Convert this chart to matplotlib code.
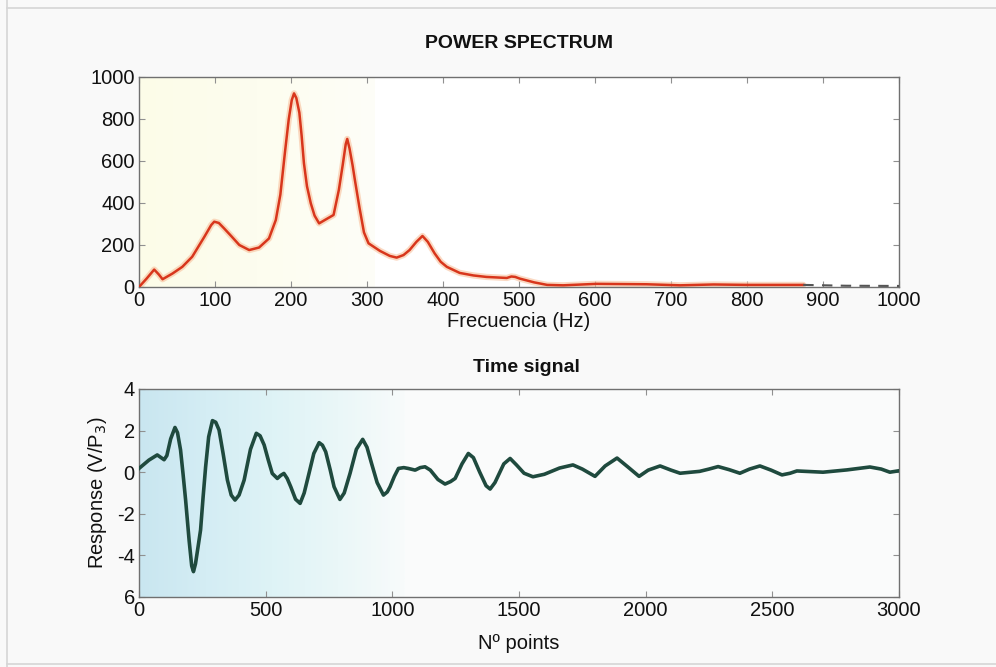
import numpy as np
import matplotlib.pyplot as plt
from matplotlib.colors import LinearSegmentedColormap
from matplotlib.lines import Line2D

plt.rcParams['font.family'] = ['Liberation Sans', 'DejaVu Sans']

# Power spectrum
freq = [0, 10, 20, 26, 31, 44, 57, 70, 86, 95, 99, 105, 112, 122, 132, 145,
        158, 171, 180, 186, 192, 197, 201, 204, 207, 211, 214, 217, 221, 226,
        231, 237, 245, 256, 263, 268, 272, 274, 277, 281, 284, 290, 296, 302,
        317, 330, 339, 348, 356, 365, 373, 380, 389, 397, 405, 422, 440, 457,
        484, 490, 495, 501, 520, 537, 558, 602, 668, 712, 756, 800, 874,
        930, 1000]
power = [0, 40, 83, 60, 37, 64, 96, 144, 239, 295, 311, 305, 279, 240, 200, 176,
         188, 231, 319, 440, 640, 798, 890, 922, 900, 830, 720, 590, 480, 399,
         340, 303, 320, 343, 463, 580, 680, 705, 660, 580, 511, 380, 260, 208,
         172, 148, 140, 152, 176, 215, 243, 215, 160, 120, 96, 67, 55, 48,
         43, 50, 48, 40, 22, 10, 8, 15, 13, 8, 12, 10, 10,
         6, 5]

# Time signal
npts = [0, 39, 72, 99, 110, 125, 142, 152, 164, 174, 184, 198, 208, 215, 223,
        233, 243, 253, 263, 275, 290, 303, 316, 332, 349, 364, 379, 395, 415,
        440, 463, 478, 494, 510, 526, 546, 560, 572, 585, 599, 618, 636, 652,
        671, 690, 711, 724, 737, 755, 770, 793, 810, 833, 858, 883, 900, 918,
        940, 965, 980, 991, 1008, 1024, 1045, 1063, 1090, 1110, 1129, 1150,
        1180, 1208, 1230, 1248, 1275, 1300, 1320, 1345, 1370, 1386, 1405, 1440,
        1465, 1490, 1520, 1555, 1600, 1660, 1713, 1750, 1800, 1840, 1887, 1930,
        1974, 2010, 2057, 2100, 2136, 2213, 2250, 2286, 2330, 2372, 2410, 2451,
        2495, 2538, 2570, 2597, 2700, 2794, 2885, 2930, 2964, 3000]
resp = [0.18, 0.58, 0.83, 0.6, 0.8, 1.6, 2.15, 1.9, 1.07, -0.1, -1.34, -3.3,
        -4.5, -4.78, -4.4, -3.6, -2.78, -1.2, 0.26, 1.7, 2.48, 2.4, 2.03, 0.9,
        -0.38, -1.1, -1.34, -1.1, -0.38, 1.1, 1.87, 1.75, 1.31, 0.6, -0.06,
        -0.3, -0.15, -0.06, -0.3, -0.7, -1.3, -1.5, -1.0, -0.06, 0.9, 1.42,
        1.3, 0.98, 0.1, -0.7, -1.31, -1.0, -0.06, 1.1, 1.58, 1.2, 0.42, -0.5,
        -1.1, -0.95, -0.7, -0.2, 0.18, 0.22, 0.18, 0.1, 0.22, 0.26, 0.1, -0.35,
        -0.57, -0.45, -0.3, 0.4, 0.9, 0.7, 0.0, -0.65, -0.81, -0.5, 0.4, 0.66,
        0.35, -0.05, -0.22, -0.1, 0.2, 0.35, 0.15, -0.2, 0.3, 0.68, 0.25, -0.2,
        0.1, 0.3, 0.1, -0.05, 0.04, 0.15, 0.27, 0.12, -0.05, 0.15, 0.3, 0.1,
        -0.13, -0.05, 0.06, 0.0, 0.11, 0.25, 0.15, 0.0, 0.07]

freq_ticks = [0, 100, 200, 300, 400, 500, 600, 700, 800, 900, 1000]
power_ticks = [0, 200, 400, 600, 800, 1000]
pts_ticks = [0, 500, 1000, 1500, 2000, 2500, 3000]
resp_ticks = [-6, -4, -2, 0, 2, 4]
resp_labels = ['6', '-4', '-2', '0', '2', '4']

W, H = 996, 667
fig = plt.figure(figsize=(W / 100, H / 100), dpi=100, facecolor='#f9f9f9')

# page frame of the scan
for xs, ys in [([7 / W, 7 / W], [0, 1]), ([7 / W, 1], [1 - 8 / H, 1 - 8 / H]),
               ([7 / W, 1], [1 - 664 / H, 1 - 664 / H])]:
    fig.add_artist(Line2D(xs, ys, transform=fig.transFigure, color='#d6d6d6', lw=1.2))


def style(ax):
    for s in ax.spines.values():
        s.set_color('#707070')
        s.set_linewidth(1.0)
    ax.tick_params(direction='in', length=4, width=0.8, color='#909090',
                   top=True, right=True, labelsize=14.5, pad=3, labelcolor='#111111')


def wash(ax, colors, frac, bg):
    # soft coloured wash on the left part of the axes
    cmap = LinearSegmentedColormap.from_list('wash', colors)
    g = np.linspace(0, 1, 256).reshape(1, -1)
    ax.imshow(g, cmap=cmap, aspect='auto', extent=[0, frac, 0, 1],
              transform=ax.transAxes, zorder=0)
    ax.set_facecolor(bg)


# --- power spectrum
ax1 = fig.add_axes([139 / W, 1 - 287 / H, 760 / W, 210 / H])
wash(ax1, ['#fcfce8', '#fdfdef', '#fefef8'], 0.31, 'white')
n_red = freq.index(874) + 1
ax1.plot(freq[:n_red], power[:n_red], color='#f8c09c', lw=4.5, alpha=0.6,
         solid_capstyle='round', zorder=2)
ax1.plot(freq[:n_red], power[:n_red], color='#d8361c', lw=1.8, zorder=3)
ax1.plot(freq[n_red - 1:], power[n_red - 1:], color='#555555', lw=1.5,
         ls=(0, (5, 4)), zorder=3)
ax1.set_xlim(0, 1000)
ax1.set_ylim(0, 1000)
ax1.set_xticks(freq_ticks)
ax1.set_yticks(power_ticks)
style(ax1)
ax1.set_xlabel('Frecuencia (Hz)', fontsize=14.5, labelpad=1, color='#111111')
fig.text(519 / W, 1 - 43 / H, 'POWER SPECTRUM', ha='center', va='center',
         fontsize=14, fontweight='bold', color='#111111')

# --- time signal
ax2 = fig.add_axes([139 / W, 1 - 597 / H, 760 / W, 208 / H])
wash(ax2, ['#c9e6f0', '#d4edf4', '#def3f6', '#eaf7f8', '#f8fbfb'], 0.35, '#fafbfb')
ax2.plot(npts, resp, color='#1f4a3e', lw=2.6, zorder=3)
ax2.set_xlim(0, 3000)
ax2.set_ylim(-6, 4)
ax2.set_xticks(pts_ticks)
ax2.set_yticks(resp_ticks)
ax2.set_yticklabels(resp_labels)
style(ax2)
ax2.set_xlabel('N\u00ba points', fontsize=14.5, labelpad=10, color='#111111')
ax2.set_ylabel('Response (V/P$_3$)', fontsize=14.5, labelpad=6, color='#111111')
fig.text(526 / W, 1 - 367 / H, 'Time signal', ha='center', va='center',
         fontsize=14, fontweight='bold', color='#111111')

fig.savefig('out.png', dpi=100, facecolor=fig.get_facecolor())
